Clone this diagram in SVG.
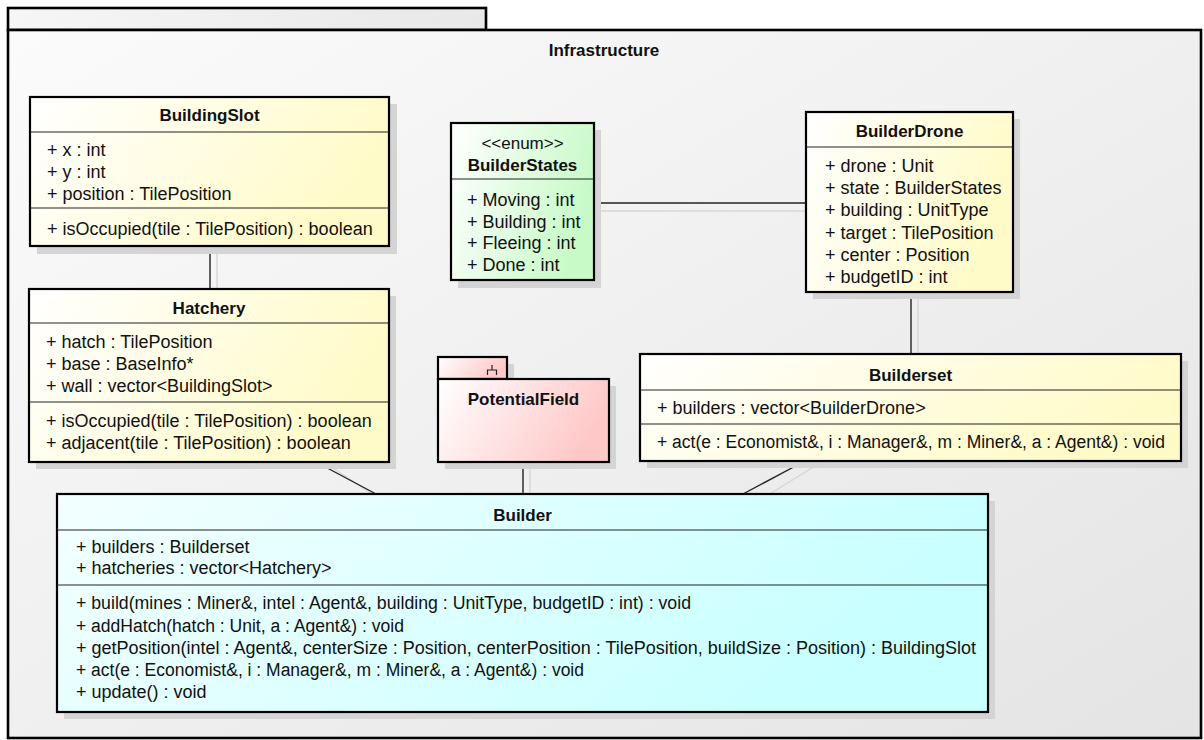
<svg xmlns="http://www.w3.org/2000/svg" width="1204" height="740" viewBox="0 0 1204 740">
  <defs>
    <linearGradient id="gFrame" x1="0" y1="0" x2="1" y2="1">
      <stop offset="0" stop-color="#fbfbfb"/>
      <stop offset="1" stop-color="#e4e4e4"/>
    </linearGradient>
    <linearGradient id="gTab" x1="0" y1="0" x2="1" y2="0">
      <stop offset="0" stop-color="#f6f6f6"/>
      <stop offset="1" stop-color="#e8e8e8"/>
    </linearGradient>
    <linearGradient id="gYellow" x1="0" y1="0" x2="1" y2="0.3">
      <stop offset="0" stop-color="#ffffff"/>
      <stop offset="1" stop-color="#fffbc8"/>
    </linearGradient>
    <linearGradient id="gGreen" x1="0" y1="0" x2="1" y2="0.3">
      <stop offset="0" stop-color="#ffffff"/>
      <stop offset="1" stop-color="#c8fac8"/>
    </linearGradient>
    <linearGradient id="gPink" x1="0" y1="0" x2="1" y2="0.3">
      <stop offset="0" stop-color="#ffffff"/>
      <stop offset="1" stop-color="#ffc8c8"/>
    </linearGradient>
    <linearGradient id="gCyan" x1="0" y1="0" x2="1" y2="0.3">
      <stop offset="0" stop-color="#f4ffff"/>
      <stop offset="1" stop-color="#c8ffff"/>
    </linearGradient>
  </defs>
  <style>
    text { font-family: "Liberation Sans", Arial, sans-serif; font-size: 18px; fill: #111; }
    .title { font-weight: bold; font-size: 17px; text-anchor: middle; }
    .stereo { text-anchor: middle; font-size: 17px; }
    .box { stroke: #000; stroke-width: 2.2; }
    .shadow { fill: #d4d4d4; }
    .div { stroke: #222; stroke-width: 1.2; }
    .link { stroke: #222; stroke-width: 1.4; fill: none; }
    .linkShadow { stroke: #d6d6d6; stroke-width: 1.4; fill: none; }
  </style>

  <rect width="1204" height="740" fill="#ffffff"/>

  <!-- package frame -->
  <g id="pkg-Infrastructure">
    <rect x="8" y="8" width="478" height="22" fill="url(#gTab)" stroke="#000" stroke-width="2.6"/>
    <rect x="8" y="30" width="1193" height="708" fill="url(#gFrame)" stroke="#000" stroke-width="2.6"/>
    <text x="604" y="56" class="title">Infrastructure</text>
  </g>

  <!-- connectors -->
  <g id="connectors">
    <line class="linkShadow" x1="217" y1="250" x2="217" y2="289"/>
    <line class="linkShadow" x1="600" y1="211" x2="806" y2="211"/>
    <line class="linkShadow" x1="918" y1="296" x2="918" y2="354"/>
    <line class="linkShadow" x1="530" y1="466" x2="530" y2="494"/>
    <line class="linkShadow" x1="330" y1="466" x2="384" y2="502"/>
    <line class="linkShadow" x1="815" y1="466" x2="760" y2="500"/>
    <line class="link" x1="210" y1="246" x2="210" y2="289"/>
    <line class="link" x1="594" y1="203" x2="806" y2="203"/>
    <line class="link" x1="911" y1="292" x2="911" y2="354"/>
    <line class="link" x1="523" y1="462" x2="523" y2="494"/>
    <line class="link" x1="316" y1="462" x2="376" y2="494"/>
    <line class="link" x1="803" y1="462" x2="743" y2="494"/>
  </g>

  <!-- BuildingSlot -->
  <g id="BuildingSlot">
    <rect class="shadow" x="37" y="104" width="360" height="150"/>
    <rect class="box" x="30" y="97" width="359" height="149" fill="url(#gYellow)"/>
    <line class="div" x1="30" y1="132" x2="389" y2="132"/>
    <line class="div" x1="30" y1="208" x2="389" y2="208"/>
    <text x="209.5" y="121" class="title">BuildingSlot</text>
    <text x="47" y="156">+ x : int</text>
    <text x="47" y="178">+ y : int</text>
    <text x="47" y="200">+ position : TilePosition</text>
    <text x="47" y="235">+ isOccupied(tile : TilePosition) : boolean</text>
  </g>

  <!-- BuilderStates -->
  <g id="BuilderStates">
    <rect class="shadow" x="458" y="130" width="143" height="158"/>
    <rect class="box" x="451" y="123" width="143" height="157" fill="url(#gGreen)"/>
    <line class="div" x1="451" y1="179" x2="594" y2="179"/>
    <text x="522.5" y="149" class="stereo">&lt;&lt;enum&gt;&gt;</text>
    <text x="522.5" y="171" class="title">BuilderStates</text>
    <text x="467" y="206">+ Moving : int</text>
    <text x="467" y="228">+ Building : int</text>
    <text x="467" y="249">+ Fleeing : int</text>
    <text x="467" y="271">+ Done : int</text>
  </g>

  <!-- BuilderDrone -->
  <g id="BuilderDrone">
    <rect class="shadow" x="813" y="119" width="207" height="180"/>
    <rect class="box" x="806" y="112" width="207" height="180" fill="url(#gYellow)"/>
    <line class="div" x1="806" y1="147" x2="1013" y2="147"/>
    <text x="909.5" y="137" class="title">BuilderDrone</text>
    <text x="825" y="172">+ drone : Unit</text>
    <text x="825" y="194">+ state : BuilderStates</text>
    <text x="825" y="216">+ building : UnitType</text>
    <text x="825" y="239">+ target : TilePosition</text>
    <text x="825" y="261">+ center : Position</text>
    <text x="825" y="283">+ budgetID : int</text>
  </g>

  <!-- Hatchery -->
  <g id="Hatchery">
    <rect class="shadow" x="36" y="296" width="360" height="173"/>
    <rect class="box" x="29" y="289" width="360" height="173" fill="url(#gYellow)"/>
    <line class="div" x1="29" y1="323" x2="389" y2="323"/>
    <line class="div" x1="29" y1="402" x2="389" y2="402"/>
    <text x="209" y="314" class="title">Hatchery</text>
    <text x="46" y="348">+ hatch : TilePosition</text>
    <text x="46" y="370">+ base : BaseInfo*</text>
    <text x="46" y="392">+ wall : vector&lt;BuildingSlot&gt;</text>
    <text x="46" y="427">+ isOccupied(tile : TilePosition) : boolean</text>
    <text x="46" y="449">+ adjacent(tile : TilePosition) : boolean</text>
  </g>

  <!-- PotentialField (package) -->
  <g id="PotentialField">
    <rect class="shadow" x="445" y="364" width="69" height="22"/>
    <rect class="shadow" x="445" y="386" width="171" height="83"/>
    <rect class="box" x="438" y="357" width="69" height="22" fill="url(#gPink)"/>
    <rect class="box" x="438" y="379" width="171" height="83" fill="url(#gPink)"/>
    <path d="M492,365v5M487.5,375v-5h9v5" stroke="#222" stroke-width="1.2" fill="none"/>
    <text x="523.5" y="405" class="title">PotentialField</text>
  </g>

  <!-- Builderset -->
  <g id="Builderset">
    <rect class="shadow" x="647" y="361" width="541" height="107"/>
    <rect class="box" x="640" y="354" width="541" height="107" fill="url(#gYellow)"/>
    <line class="div" x1="640" y1="390" x2="1181" y2="390"/>
    <line class="div" x1="640" y1="424" x2="1181" y2="424"/>
    <text x="910.5" y="381" class="title">Builderset</text>
    <text x="657" y="414">+ builders : vector&lt;BuilderDrone&gt;</text>
    <text x="657" y="448" textLength="508" lengthAdjust="spacingAndGlyphs">+ act(e : Economist&amp;, i : Manager&amp;, m : Miner&amp;, a : Agent&amp;) : void</text>
  </g>

  <!-- Builder -->
  <g id="Builder">
    <rect class="shadow" x="64" y="501" width="931" height="218"/>
    <rect class="box" x="57" y="494" width="931" height="218" fill="url(#gCyan)"/>
    <line class="div" x1="57" y1="530" x2="988" y2="530"/>
    <line class="div" x1="57" y1="585" x2="988" y2="585"/>
    <text x="522.5" y="521" class="title">Builder</text>
    <text x="76" y="553">+ builders : Builderset</text>
    <text x="76" y="574">+ hatcheries : vector&lt;Hatchery&gt;</text>
    <text x="76" y="609" textLength="615" lengthAdjust="spacingAndGlyphs">+ build(mines : Miner&amp;, intel : Agent&amp;, building : UnitType, budgetID : int) : void</text>
    <text x="76" y="632" textLength="328" lengthAdjust="spacingAndGlyphs">+ addHatch(hatch : Unit, a : Agent&amp;) : void</text>
    <text x="76" y="654">+ getPosition(intel : Agent&amp;, centerSize : Position, centerPosition : TilePosition, buildSize : Position) : BuildingSlot</text>
    <text x="76" y="676" textLength="508" lengthAdjust="spacingAndGlyphs">+ act(e : Economist&amp;, i : Manager&amp;, m : Miner&amp;, a : Agent&amp;) : void</text>
    <text x="76" y="698">+ update() : void</text>
  </g>
</svg>
